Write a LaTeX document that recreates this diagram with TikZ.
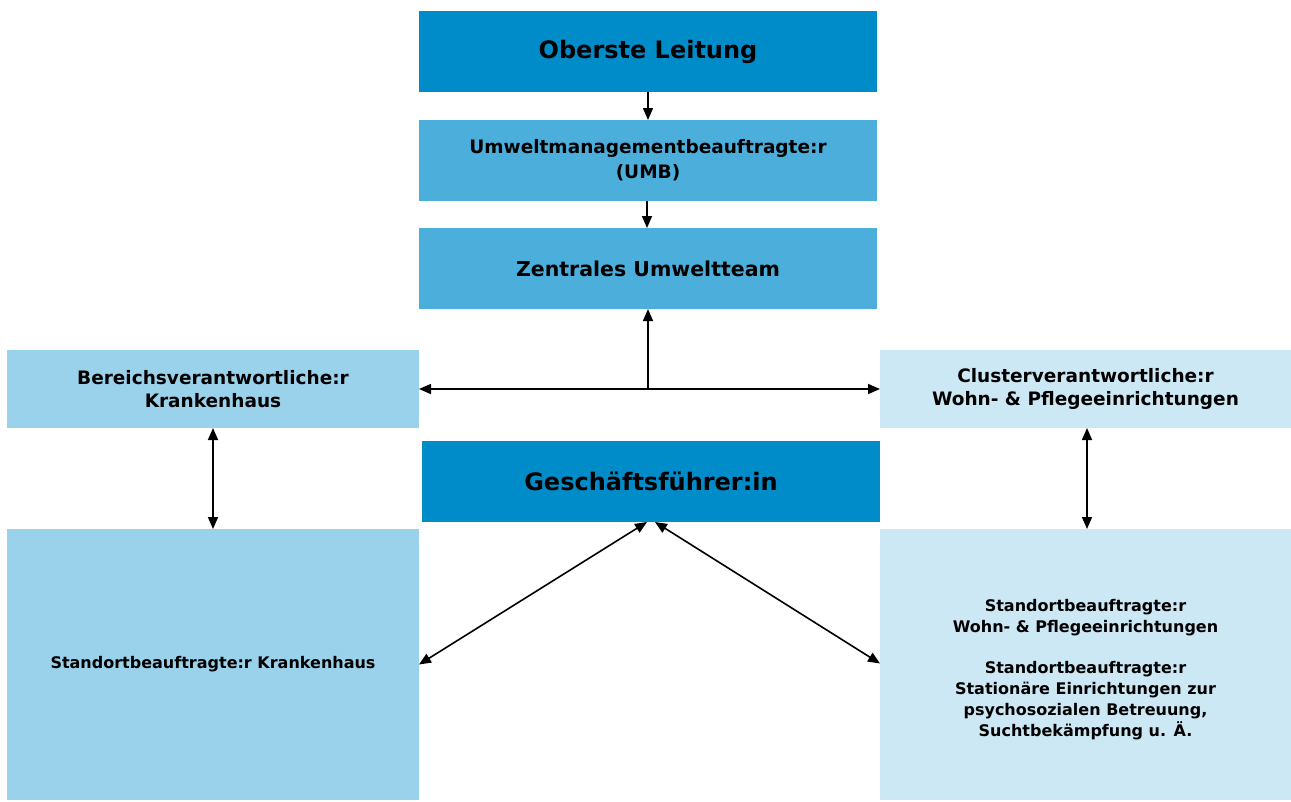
\documentclass[tikz,border=0pt]{standalone}
\usepackage{fontspec}
\setmainfont{DejaVu Sans}
\usetikzlibrary{arrows.meta}
\definecolor{cdark}{RGB}{0,140,201}
\definecolor{cmid}{RGB}{75,174,219}
\definecolor{clight}{RGB}{155,210,235}
\definecolor{cpale}{RGB}{204,232,245}
\begin{document}
\begin{tikzpicture}[x=1pt,y=-1pt,
  box/.style={rectangle, inner sep=0pt, outer sep=0pt, align=center, text=black, font=\bfseries},
  tip/.tip={Triangle[length=12pt,width=10pt]},
  arr/.style={line width=1.6pt, -tip},
  darr/.style={line width=1.6pt, tip-tip}]
\useasboundingbox[fill=white] (0,0) rectangle (1291,801);
\node[box, fill=cdark, minimum width=458pt, minimum height=81pt, font=\bfseries\fontsize{24}{30}\selectfont] (ober) at (648,51.5) {Oberste Leitung};
\node[box, fill=cmid, minimum width=458pt, minimum height=81pt, font=\bfseries\fontsize{18.5}{25}\selectfont] (umb) at (648,160.5) {Umweltmanagementbeauftragte:r\\(UMB)};
\node[box, fill=cmid, minimum width=458pt, minimum height=81pt, font=\bfseries\fontsize{20.5}{26}\selectfont] (zent) at (648,268.5) {Zentrales Umweltteam};
\node[box, fill=clight, minimum width=412pt, minimum height=78pt, font=\bfseries\fontsize{18.5}{23}\selectfont] (ber) at (213,389) {Bereichsverantwortliche:r\\Krankenhaus};
\node[box, fill=cpale, minimum width=411pt, minimum height=78pt, font=\bfseries\fontsize{18.5}{23}\selectfont] (clu) at (1085.5,389) {Clusterverantwortliche:r\\Wohn- \& Pflegeeinrichtungen};
\node[box, fill=cdark, minimum width=458pt, minimum height=81pt, font=\bfseries\fontsize{24}{30}\selectfont] (ges) at (651,481.5) {Geschäftsführer:in};
\node[box, fill=clight, minimum width=412pt, minimum height=271pt, font=\bfseries\fontsize{16}{21}\selectfont] (sk) at (213,664.5) {Standortbeauftragte:r Krankenhaus};
\node[box, fill=cpale, minimum width=411pt, minimum height=271pt, font=\bfseries\fontsize{16}{21}\selectfont] (sw) at (1085.5,664.5) {\mbox{}\\[1pt]Standortbeauftragte:r\\Wohn- \& Pflegeeinrichtungen\\[20pt]Standortbeauftragte:r\\Stationäre Einrichtungen zur\\psychosozialen Betreuung,\\Suchtbekämpfung u. Ä.};
\coordinate (j) at (648,388);
\draw[arr] (ober.south) -- (umb.north);
\draw[arr] ([xshift=-1pt]umb.south) -- ([xshift=-1pt]zent.north);
\draw[arr] (j) -- (zent.south);
\draw[darr] (ber.east) -- (clu.west);
\draw[darr] (ber.south) -- (sk.north);
\draw[darr] ([xshift=1.5pt]clu.south) -- ([xshift=1.5pt]clu.south |- sw.north);
\draw[darr] ([xshift=-4pt]ges.south) -- (sk.east);
\draw[darr] ([xshift=4pt]ges.south) -- ([yshift=1pt]sw.west);
\end{tikzpicture}
\end{document}
